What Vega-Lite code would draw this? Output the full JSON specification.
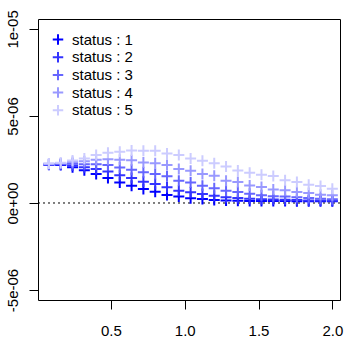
{
  "$schema": "https://vega.github.io/schema/vega-lite/v6.json",
  "width": 302,
  "height": 281,
  "autosize": {"type": "none"},
  "padding": {"left": 38, "top": 19, "right": 10, "bottom": 50},
  "background": "white",
  "config": {
    "font": "Liberation Sans",
    "view": {"stroke": "black", "strokeWidth": 1},
    "axis": {"grid": false, "domain": false, "tickColor": "black", "tickSize": 9, "tickWidth": 1, "labelFont": "Liberation Sans", "labelFontSize": 15, "labelColor": "black", "title": null},
    "legend": {"padding": 0, "labelFont": "Liberation Sans", "labelFontSize": 15, "labelColor": "black"}
  },
  "encoding": {
    "y": {
      "field": "y", "type": "quantitative",
      "scale": {"domain": [-5.573e-6, 1.057e-5], "nice": false, "zero": false},
      "axis": {"values": [-5e-6, 0, 5e-6, 1e-5], "labelExpr": "datum.value == 0 ? '0e+00' : (datum.value > 9e-6 ? '1e-05' : (datum.value > 0 ? '5e-06' : '-5e-06'))", "labelAngle": -90, "labelAlign": "center", "labelBaseline": "alphabetic", "labelPadding": 12}
    }
  },
  "layer": [
    {
      "data": {"values": [{"y": 0}]},
      "mark": {"type": "rule", "color": "black", "strokeDash": [2, 3], "strokeWidth": 1},
      "encoding": {}
    },
    {
      "data": {"values": [
        {"x":0.08,"y":2.19e-6,"status":"1"},{"x":0.16,"y":2.18e-6,"status":"1"},{"x":0.24,"y":2.06e-6,"status":"1"},{"x":0.32,"y":1.88e-6,"status":"1"},{"x":0.40,"y":1.66e-6,"status":"1"},
        {"x":0.48,"y":1.43e-6,"status":"1"},{"x":0.56,"y":1.18e-6,"status":"1"},{"x":0.64,"y":0.99e-6,"status":"1"},{"x":0.72,"y":0.80e-6,"status":"1"},{"x":0.80,"y":0.65e-6,"status":"1"},
        {"x":0.88,"y":0.46e-6,"status":"1"},{"x":0.96,"y":0.38e-6,"status":"1"},{"x":1.04,"y":0.27e-6,"status":"1"},{"x":1.12,"y":0.23e-6,"status":"1"},{"x":1.20,"y":0.17e-6,"status":"1"},
        {"x":1.28,"y":0.14e-6,"status":"1"},{"x":1.36,"y":0.13e-6,"status":"1"},{"x":1.44,"y":0.12e-6,"status":"1"},{"x":1.52,"y":0.11e-6,"status":"1"},{"x":1.60,"y":0.11e-6,"status":"1"},
        {"x":1.68,"y":0.11e-6,"status":"1"},{"x":1.76,"y":0.10e-6,"status":"1"},{"x":1.84,"y":0.10e-6,"status":"1"},{"x":1.92,"y":0.10e-6,"status":"1"},{"x":2.00,"y":0.10e-6,"status":"1"},
        {"x":0.08,"y":2.21e-6,"status":"2"},{"x":0.16,"y":2.21e-6,"status":"2"},{"x":0.24,"y":2.15e-6,"status":"2"},{"x":0.32,"y":2.05e-6,"status":"2"},{"x":0.40,"y":1.95e-6,"status":"2"},
        {"x":0.48,"y":1.81e-6,"status":"2"},{"x":0.56,"y":1.60e-6,"status":"2"},{"x":0.64,"y":1.43e-6,"status":"2"},{"x":0.72,"y":1.22e-6,"status":"2"},{"x":0.80,"y":1.09e-6,"status":"2"},
        {"x":0.88,"y":0.90e-6,"status":"2"},{"x":0.96,"y":0.71e-6,"status":"2"},{"x":1.04,"y":0.61e-6,"status":"2"},{"x":1.12,"y":0.52e-6,"status":"2"},{"x":1.20,"y":0.42e-6,"status":"2"},
        {"x":1.28,"y":0.33e-6,"status":"2"},{"x":1.36,"y":0.29e-6,"status":"2"},{"x":1.44,"y":0.25e-6,"status":"2"},{"x":1.52,"y":0.22e-6,"status":"2"},{"x":1.60,"y":0.20e-6,"status":"2"},
        {"x":1.68,"y":0.19e-6,"status":"2"},{"x":1.76,"y":0.17e-6,"status":"2"},{"x":1.84,"y":0.15e-6,"status":"2"},{"x":1.92,"y":0.14e-6,"status":"2"},{"x":2.00,"y":0.13e-6,"status":"2"},
        {"x":0.08,"y":2.23e-6,"status":"3"},{"x":0.16,"y":2.25e-6,"status":"3"},{"x":0.24,"y":2.25e-6,"status":"3"},{"x":0.32,"y":2.22e-6,"status":"3"},{"x":0.40,"y":2.23e-6,"status":"3"},
        {"x":0.48,"y":2.18e-6,"status":"3"},{"x":0.56,"y":2.04e-6,"status":"3"},{"x":0.64,"y":1.91e-6,"status":"3"},{"x":0.72,"y":1.76e-6,"status":"3"},{"x":0.80,"y":1.66e-6,"status":"3"},
        {"x":0.88,"y":1.53e-6,"status":"3"},{"x":0.96,"y":1.28e-6,"status":"3"},{"x":1.04,"y":1.18e-6,"status":"3"},{"x":1.12,"y":0.99e-6,"status":"3"},{"x":1.20,"y":0.84e-6,"status":"3"},
        {"x":1.28,"y":0.71e-6,"status":"3"},{"x":1.36,"y":0.63e-6,"status":"3"},{"x":1.44,"y":0.53e-6,"status":"3"},{"x":1.52,"y":0.45e-6,"status":"3"},{"x":1.60,"y":0.39e-6,"status":"3"},
        {"x":1.68,"y":0.37e-6,"status":"3"},{"x":1.76,"y":0.33e-6,"status":"3"},{"x":1.84,"y":0.29e-6,"status":"3"},{"x":1.92,"y":0.25e-6,"status":"3"},{"x":2.00,"y":0.21e-6,"status":"3"},
        {"x":0.08,"y":2.25e-6,"status":"4"},{"x":0.16,"y":2.28e-6,"status":"4"},{"x":0.24,"y":2.35e-6,"status":"4"},{"x":0.32,"y":2.40e-6,"status":"4"},{"x":0.40,"y":2.48e-6,"status":"4"},
        {"x":0.48,"y":2.52e-6,"status":"4"},{"x":0.56,"y":2.48e-6,"status":"4"},{"x":0.64,"y":2.46e-6,"status":"4"},{"x":0.72,"y":2.33e-6,"status":"4"},{"x":0.80,"y":2.29e-6,"status":"4"},
        {"x":0.88,"y":2.18e-6,"status":"4"},{"x":0.96,"y":1.95e-6,"status":"4"},{"x":1.04,"y":1.85e-6,"status":"4"},{"x":1.12,"y":1.66e-6,"status":"4"},{"x":1.20,"y":1.57e-6,"status":"4"},
        {"x":1.28,"y":1.28e-6,"status":"4"},{"x":1.36,"y":1.20e-6,"status":"4"},{"x":1.44,"y":1.01e-6,"status":"4"},{"x":1.52,"y":0.92e-6,"status":"4"},{"x":1.60,"y":0.78e-6,"status":"4"},
        {"x":1.68,"y":0.73e-6,"status":"4"},{"x":1.76,"y":0.63e-6,"status":"4"},{"x":1.84,"y":0.57e-6,"status":"4"},{"x":1.92,"y":0.48e-6,"status":"4"},{"x":2.00,"y":0.44e-6,"status":"4"},
        {"x":0.08,"y":2.27e-6,"status":"5"},{"x":0.16,"y":2.31e-6,"status":"5"},{"x":0.24,"y":2.44e-6,"status":"5"},{"x":0.32,"y":2.56e-6,"status":"5"},{"x":0.40,"y":2.75e-6,"status":"5"},
        {"x":0.48,"y":2.88e-6,"status":"5"},{"x":0.56,"y":2.94e-6,"status":"5"},{"x":0.64,"y":3.02e-6,"status":"5"},{"x":0.72,"y":3.00e-6,"status":"5"},{"x":0.80,"y":3.00e-6,"status":"5"},
        {"x":0.88,"y":2.85e-6,"status":"5"},{"x":0.96,"y":2.75e-6,"status":"5"},{"x":1.04,"y":2.56e-6,"status":"5"},{"x":1.12,"y":2.43e-6,"status":"5"},{"x":1.20,"y":2.29e-6,"status":"5"},
        {"x":1.28,"y":2.10e-6,"status":"5"},{"x":1.36,"y":1.87e-6,"status":"5"},{"x":1.44,"y":1.74e-6,"status":"5"},{"x":1.52,"y":1.62e-6,"status":"5"},{"x":1.60,"y":1.55e-6,"status":"5"},
        {"x":1.68,"y":1.30e-6,"status":"5"},{"x":1.76,"y":1.20e-6,"status":"5"},{"x":1.84,"y":1.05e-6,"status":"5"},{"x":1.92,"y":0.97e-6,"status":"5"},{"x":2.00,"y":0.82e-6,"status":"5"}
      ]},
      "mark": {"type": "point", "shape": "M-1,0L1,0M0,-1L0,1", "filled": false, "size": 121, "strokeWidth": 2, "opacity": 1},
      "encoding": {
        "x": {
          "field": "x", "type": "quantitative",
          "scale": {"domain": [0.006, 2.052], "nice": false, "zero": false},
          "axis": {"values": [0.5, 1, 1.5, 2], "format": ".1f", "labelPadding": 14}
        },
        "color": {
          "field": "status", "type": "nominal",
          "scale": {"domain": ["1", "2", "3", "4", "5"], "range": ["#0000FF", "#3333FF", "#6666FF", "#9999FF", "#CCCCFF"]},
          "legend": {"orient": "none", "legendX": 12.5, "legendY": 13, "title": null, "labelExpr": "'status : ' + datum.label", "symbolType": "M-1,0L1,0M0,-1L0,1", "symbolSize": 110, "symbolStrokeWidth": 2, "symbolFillColor": "transparent", "clipHeight": 15, "rowPadding": 1.7, "labelOffset": 6.5}
        }
      }
    }
  ]
}
